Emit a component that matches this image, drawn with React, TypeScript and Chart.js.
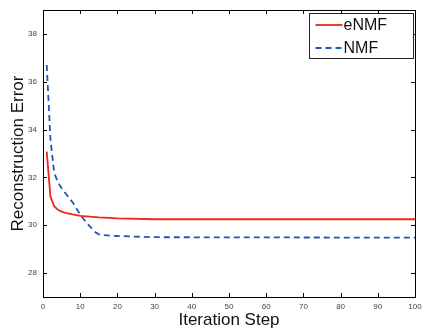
import React, { useEffect, useRef } from 'react';
import { Chart, registerables } from 'chart.js';

Chart.register(...registerables);

// ---- data ----
const seriesLabels = ['eNMF', 'NMF'];
const enmfSteps = [1, 2, 3, 4, 5, 6, 8, 10, 15, 20, 30, 100];
const enmfError = [33.08, 31.2, 30.8, 30.65, 30.57, 30.52, 30.45, 30.39, 30.33, 30.29, 30.25, 30.25];
const nmfSteps = [1, 2, 3, 4, 5, 6, 8, 10, 12, 14, 15, 16, 20, 30, 100];
const nmfError = [36.7, 33.6, 32.2, 31.8, 31.55, 31.35, 30.95, 30.45, 30.05, 29.72, 29.62, 29.59, 29.55, 29.5, 29.48];
const xTicks = [0, 10, 20, 30, 40, 50, 60, 70, 80, 90, 100];
const yTicks = [28, 30, 32, 34, 36, 38];
const xTitle = 'Iteration Step';
const yTitle = 'Reconstruction Error';

const RED = 'rgb(240, 38, 30)';
const BLUE = 'rgb(38, 84, 178)';
const FONT = '"Liberation Sans", Arial, Helvetica, sans-serif';

const frameLegendPlugin = {
  id: 'frameLegend',
  afterDraw(chart: any) {
    const { ctx, chartArea } = chart;
    const { left, right, top, bottom } = chartArea;
    const xs = chart.scales.x;
    const ys = chart.scales.y;
    ctx.save();
    ctx.strokeStyle = '#000';
    ctx.lineWidth = 1;
    ctx.setLineDash([]);
    // frame
    ctx.strokeRect(Math.round(left) + 0.5, Math.round(top) + 0.5, Math.round(right - left), Math.round(bottom - top));
    // inward ticks on all sides
    const tl = 4;
    ctx.beginPath();
    xTicks.forEach((v) => {
      const px = Math.round(xs.getPixelForValue(v)) + 0.5;
      ctx.moveTo(px, bottom);
      ctx.lineTo(px, bottom - tl);
      ctx.moveTo(px, top);
      ctx.lineTo(px, top + tl);
    });
    yTicks.forEach((v) => {
      const py = Math.round(ys.getPixelForValue(v)) + 0.5;
      ctx.moveTo(left, py);
      ctx.lineTo(left + tl, py);
      ctx.moveTo(right, py);
      ctx.lineTo(right - tl, py);
    });
    ctx.stroke();

    // legend
    const bx = Math.round(right) - 106 + 0.5;
    const by = Math.round(top) + 3 + 0.5;
    const bw = 104;
    const bh = 45;
    ctx.fillStyle = '#fff';
    ctx.fillRect(bx, by, bw, bh);
    ctx.strokeStyle = '#222';
    ctx.strokeRect(bx, by, bw, bh);
    const datasets = chart.data.datasets;
    datasets.forEach((ds: any, i: number) => {
      const y = by + 11.5 + i * 23;
      ctx.beginPath();
      ctx.strokeStyle = ds.borderColor;
      ctx.lineWidth = ds.borderWidth;
      ctx.setLineDash(ds.borderDash || []);
      ctx.moveTo(bx + 6, y);
      ctx.lineTo(bx + 33, y);
      ctx.stroke();
      ctx.setLineDash([]);
      ctx.fillStyle = '#111';
      ctx.font = `16px ${FONT}`;
      ctx.textBaseline = 'middle';
      ctx.textAlign = 'left';
      ctx.fillText(ds.label, bx + 34, y + 0.5);
    });
    ctx.restore();
  },
};

export default function App() {
  const canvasRef = useRef<HTMLCanvasElement | null>(null);

  useEffect(() => {
    document.body.style.margin = '0';
    const canvas = canvasRef.current;
    if (!canvas) return;
    const chart = new Chart(canvas, {
      type: 'line',
      data: {
        datasets: [
          {
            label: seriesLabels[0],
            data: enmfSteps.map((x, i) => ({ x, y: enmfError[i] })),
            borderColor: RED,
            borderWidth: 1.8,
            pointRadius: 0,
            fill: false,
            tension: 0,
          },
          {
            label: seriesLabels[1],
            data: nmfSteps.map((x, i) => ({ x, y: nmfError[i] })),
            borderColor: BLUE,
            borderWidth: 1.8,
            borderDash: [6, 4],
            pointRadius: 0,
            fill: false,
            tension: 0,
          },
        ],
      },
      options: {
        responsive: false,
        animation: false,
        devicePixelRatio: 1,
        layout: { padding: { top: 10, right: 7, left: 0, bottom: 0 } },
        plugins: { legend: { display: false }, tooltip: { enabled: false } },
        scales: {
          x: {
            type: 'linear',
            min: 0,
            max: 100,
            afterBuildTicks: (s: any) => {
              s.ticks = xTicks.map((v) => ({ value: v }));
            },
            afterFit: (s: any) => {
              s.height = 32;
              s.paddingLeft = 0;
              s.paddingRight = 0;
            },
            grid: { display: false, drawTicks: false },
            border: { display: false },
            ticks: {
              autoSkip: false,
              maxRotation: 0,
              padding: 5,
              color: '#444',
              font: { family: FONT, size: 8 },
            },
            title: {
              display: true,
              text: xTitle,
              color: '#111',
              font: { family: FONT, size: 17, lineHeight: 1 },
              padding: { top: 0, bottom: 0 },
            },
          },
          y: {
            type: 'linear',
            min: 27,
            max: 39,
            afterBuildTicks: (s: any) => {
              s.ticks = yTicks.map((v) => ({ value: v }));
            },
            afterFit: (s: any) => {
              s.width = 43;
              s.paddingTop = 0;
              s.paddingBottom = 0;
            },
            grid: { display: false, drawTicks: false },
            border: { display: false },
            ticks: {
              autoSkip: false,
              padding: 6,
              color: '#444',
              font: { family: FONT, size: 8 },
            },
            title: {
              display: true,
              text: yTitle,
              color: '#111',
              font: { family: FONT, size: 17, lineHeight: 1 },
              padding: { top: 10, bottom: 0 },
            },
          },
        },
      },
      plugins: [frameLegendPlugin],
    });
    return () => chart.destroy();
  }, []);

  return (
    <div style={{ width: 422, height: 329, background: '#fff' }}>
      <canvas ref={canvasRef} width={422} height={329} style={{ display: 'block' }} />
    </div>
  );
}
